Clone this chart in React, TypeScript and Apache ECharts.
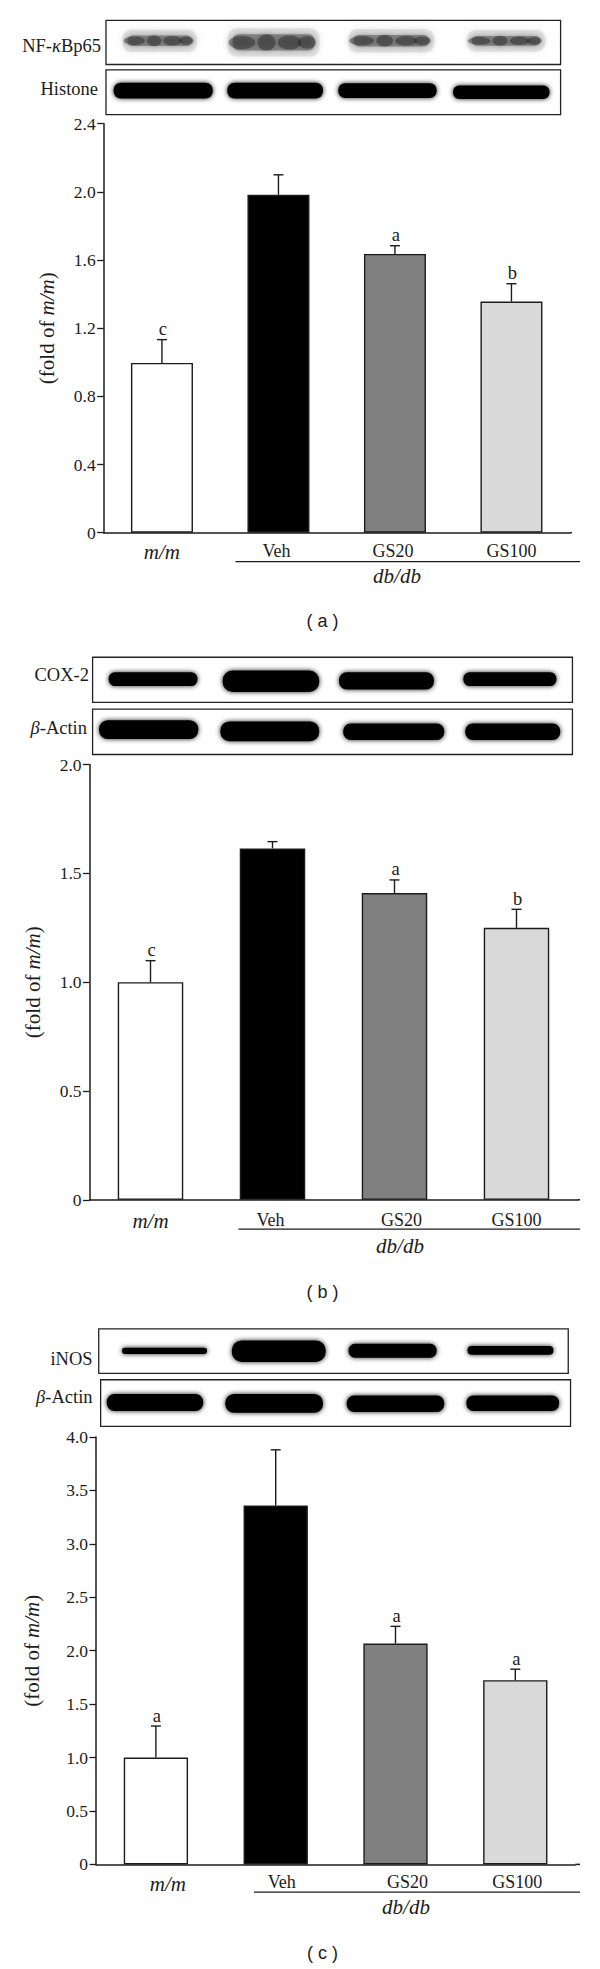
import React, { useEffect, useRef } from "react";
import * as echarts from "echarts";

const categories = ["m/m", "Veh", "GS20", "GS100"];
const barColors = ["#ffffff", "#000000", "#808080", "#d9d9d9"];

const valuesA = [0.996, 1.983, 1.636, 1.356];
const topsA = [1.133, 2.1, 1.684, 1.461];
const lettersA = ["c", "", "a", "b"];

const valuesB = [1.0, 1.615, 1.41, 1.25];
const topsB = [1.099, 1.646, 1.47, 1.335];
const lettersB = ["c", "", "a", "b"];

const valuesC = [1.0, 3.36, 2.067, 1.724];
const topsC = [1.295, 3.88, 2.228, 1.827];
const lettersC = ["a", "", "a", "a"];

const SERIF = "'Liberation Serif', serif";
const INK = "#1c1c1c";
const ZX = 1568 / 600;
const ZA = 1568 / 640;
const ZB = 1568 / 660;
const ZC = 1568 / 659;

type Panel = {
  left: number; band: number; top: number; bottom: number; axisEnd: number; barWidth: number;
  max: number; interval: number; values: number[]; tops: number[]; letters: string[];
  labelShift: number[]; nameGap: number; labelMargin: number;
  rule: [number, number, number]; group: [number, number]; caption: [string, number];
};

const panels: Panel[] = [
  { left: 103.7, band: 116.5, top: 123.7, bottom: 532.7, axisEnd: 572, barWidth: 62, max: 2.4, interval: 0.4,
    values: valuesA, tops: topsA, letters: lettersA, labelShift: [0, -2, -2, 0], nameGap: 46, labelMargin: 9,
    rule: [235.5, 580, 561.6], group: [397, 575.5], caption: ["( a )", 621] },
  { left: 89.5, band: 122, top: 764.6, bottom: 1199.8, axisEnd: 580, barWidth: 65.5, max: 2.0, interval: 0.5,
    values: valuesB, tops: topsB, letters: lettersB, labelShift: [0, -2, 7, 0], nameGap: 46.5, labelMargin: 11,
    rule: [238.5, 580, 1229.2], group: [400, 1246], caption: ["( b )", 1291.5] },
  { left: 96, band: 119.8, top: 1437, bottom: 1864.4, axisEnd: 580, barWidth: 64.3, max: 4.0, interval: 0.5,
    values: valuesC, tops: topsC, letters: lettersC, labelShift: [12, 6, 12, 2], nameGap: 54, labelMargin: 9,
    rule: [254, 580, 1892.2], group: [406, 1906.9], caption: ["( c )", 1953] },
];

// Western-blot boxes and bands, in zoom-crop units: [x0, x1, yCentre, height]
const boxes = [
  { x0: 277, x1: 1465, y0: 50, y1: 158, oy: 0, zy: ZA, soft: true, bands: [[325, 510, 100, 26], [600, 830, 104, 40], [915, 1130, 100, 28], [1225, 1420, 100, 24]] },
  { x0: 277, x1: 1465, y0: 171, y1: 281, oy: 0, zy: ZA, soft: false, bands: [[293, 560, 222, 46], [590, 848, 222, 46], [880, 1145, 222, 44], [1180, 1440, 226, 40]] },
  { x0: 242, x1: 1496, y0: 41, y1: 148, oy: 640, zy: ZB, soft: false, bands: [[280, 520, 93, 40], [578, 838, 98, 58], [882, 1138, 97, 48], [1207, 1458, 93, 40]] },
  { x0: 242, x1: 1496, y0: 164, y1: 272, oy: 640, zy: ZB, soft: false, bands: [[255, 522, 213, 52], [572, 838, 217, 54], [893, 1165, 218, 46], [1212, 1468, 218, 46]] },
  { x0: 258, x1: 1485, y0: 45, y1: 151, oy: 1310, zy: ZC, soft: false, bands: [[315, 545, 97, 22], [602, 855, 98, 58], [907, 1145, 97, 40], [1218, 1450, 96, 28]] },
  { x0: 263, x1: 1491, y0: 166, y1: 277, oy: 1310, zy: ZC, soft: false, bands: [[275, 535, 220, 48], [585, 848, 222, 52], [902, 1165, 223, 46], [1215, 1465, 222, 44]] },
];

// Dark clumps inside the faint NF-kB bands: [position along band, width share, height share]
const clumps = [[0.14, 0.3, 0.8], [0.42, 0.2, 1.0], [0.68, 0.26, 0.85], [0.88, 0.2, 0.75]];

const blotLabels = [
  { text: "NF-{i|κ}Bp65", right: 101, y: 46 },
  { text: "Histone", right: 98, y: 89 },
  { text: "COX-2", right: 89, y: 674.5 },
  { text: "{i|β}-Actin", right: 87, y: 727.5 },
  { text: "iNOS", right: 92.6, y: 1358.8 },
  { text: "{i|β}-Actin", right: 92.6, y: 1397.4 },
];

const italic = (size: number) => ({ fontFamily: SERIF, fontSize: size, fontStyle: "italic", fill: "#1c1c1c", color: "#1c1c1c" });

function buildGraphic() {
  const els: any[] = [];
  boxes.forEach((b) => {
    const bx = b.x0 / ZX, by = b.oy + b.y0 / b.zy, bw = (b.x1 - b.x0) / ZX, bh = (b.y1 - b.y0) / b.zy;
    els.push({ type: "rect", shape: { x: bx, y: by, width: bw, height: bh }, style: { fill: "#fff", stroke: "#222", lineWidth: 1.3 } });
    b.bands.forEach(([x0, x1, cy, h]) => {
      const x = x0 / ZX, w = (x1 - x0) / ZX, hh = h / b.zy, y = b.oy + cy / b.zy - hh / 2;
      if (b.soft) {
        els.push({ type: "rect", shape: { x: x - 2, y: y - 6, width: w + 4, height: hh + 12, r: 9 }, style: { fill: "rgba(170,170,170,0.28)", shadowBlur: 10, shadowColor: "rgba(170,170,170,0.7)" } });
        els.push({ type: "rect", shape: { x: x + 3, y: y, width: w - 6, height: hh, r: 6 }, style: { fill: "rgba(95,95,95,0.6)", shadowBlur: 7, shadowColor: "rgba(95,95,95,0.7)" } });
        clumps.forEach(([p, ws, hs]) => {
          els.push({ type: "ellipse", shape: { cx: x + p * w, cy: y + hh / 2, rx: (ws * w) / 2, ry: (hs * hh) / 2 }, style: { fill: "rgba(30,30,30,0.42)", shadowBlur: 5, shadowColor: "rgba(30,30,30,0.5)" } });
        });
      } else {
        els.push({ type: "rect", shape: { x: x + 1.5, y: y + 1.5, width: w - 3, height: hh - 3, r: (hh - 3) / 2.2 }, style: { fill: "#050505", shadowBlur: 5, shadowColor: "rgba(0,0,0,0.9)" } });
      }
    });
  });
  blotLabels.forEach((l) => {
    els.push({ type: "text", style: { text: l.text, x: l.right, y: l.y, textAlign: "right", textVerticalAlign: "middle", fontFamily: SERIF, fontSize: 18.5, fill: INK, rich: { i: italic(18.5) } } });
  });
  panels.forEach((p) => {
    const gridRight = p.left + 4 * p.band;
    els.push({ type: "line", shape: { x1: gridRight, y1: p.bottom, x2: p.axisEnd, y2: p.bottom }, style: { stroke: INK, lineWidth: 1.5 } });
    els.push({ type: "line", shape: { x1: p.rule[0], y1: p.rule[2], x2: p.rule[1], y2: p.rule[2] }, style: { stroke: INK, lineWidth: 1.2 } });
    els.push({ type: "text", style: { text: "db/db", x: p.group[0], y: p.group[1], textAlign: "center", textVerticalAlign: "middle", ...italic(21) } });
    els.push({ type: "text", style: { text: p.caption[0], x: 322.5, y: p.caption[1], textAlign: "center", textVerticalAlign: "middle", fontFamily: "'Liberation Sans', sans-serif", fontSize: 18, fill: INK } });
  });
  return els;
}

function buildOption() {
  return {
    animation: false,
    backgroundColor: "#ffffff",
    grid: panels.map((p) => ({ left: p.left, top: p.top, width: 4 * p.band, height: p.bottom - p.top, containLabel: false })),
    xAxis: panels.map((p, gi) => {
      const rich: any = { };
      p.labelShift.forEach((dx, i) => {
        const padding = dx >= 0 ? [0, 0, 0, 2 * dx] : [0, -2 * dx, 0, 0];
        rich["s" + i] = { padding, fontFamily: SERIF, fontSize: i === 0 ? 21 : 18, color: INK, fontStyle: i === 0 ? "italic" : "normal" };
      });
      return {
        type: "category", gridIndex: gi, data: categories, boundaryGap: true,
        axisLine: { lineStyle: { color: INK, width: 1.5 } }, axisTick: { show: false },
        axisLabel: { margin: p.labelMargin, interval: 0, formatter: (v: string) => `{s${categories.indexOf(v)}|${v}}`, rich },
      };
    }),
    yAxis: panels.map((p, gi) => ({
      type: "value", gridIndex: gi, min: 0, max: p.max, interval: p.interval,
      name: "(fold of {i|m/m})", nameLocation: "middle", nameRotate: 90, nameGap: p.nameGap,
      nameTextStyle: { fontFamily: SERIF, fontSize: 21, color: INK, rich: { i: { fontFamily: SERIF, fontSize: 21, fontStyle: "italic", color: INK } } },
      axisLine: { show: true, lineStyle: { color: INK, width: 1.5 } },
      axisTick: { show: true, length: 6.5, lineStyle: { color: INK, width: 1.3 } },
      splitLine: { show: false },
      axisLabel: { margin: 8, fontFamily: SERIF, fontSize: 17.5, color: INK, formatter: (v: number) => (v === 0 ? "0" : v.toFixed(1)) },
    })),
    series: panels.flatMap((p, gi) => [
      {
        type: "bar", xAxisIndex: gi, yAxisIndex: gi, barWidth: p.barWidth, z: 2,
        data: p.values.map((v, i) => ({ value: v, itemStyle: { color: barColors[i], borderColor: INK, borderWidth: 1.4 } })),
      },
      {
        type: "custom", xAxisIndex: gi, yAxisIndex: gi, z: 1,
        data: p.tops.map((t, i) => [i, p.values[i], t]),
        renderItem: (params: any, api: any) => {
          const i = api.value(0);
          const [x, y0] = api.coord([i, api.value(1)]);
          const [, y1] = api.coord([i, api.value(2)]);
          const stroke = { stroke: INK, lineWidth: 1.4 };
          const children: any[] = [
            { type: "line", shape: { x1: x, y1: y0, x2: x, y2: y1 }, style: stroke },
            { type: "line", shape: { x1: x - 5, y1, x2: x + 5, y2: y1 }, style: stroke },
          ];
          const letter = p.letters[params.dataIndex];
          if (letter) {
            children.push({ type: "text", style: { text: letter, x: x + 1, y: y1 - 1, textAlign: "center", textVerticalAlign: "bottom", fontFamily: SERIF, fontSize: 18.5, fill: INK } });
          }
          return { type: "group", children };
        },
      },
    ]),
    graphic: buildGraphic(),
  };
}

export default function App() {
  const ref = useRef<HTMLDivElement>(null);
  useEffect(() => {
    document.body.style.margin = "0";
    const chart = echarts.init(ref.current!, null, { renderer: "svg" });
    chart.setOption(buildOption() as any);
    return () => chart.dispose();
  }, []);
  return <div ref={ref} style={{ width: 600, height: 1969 }} />;
}
